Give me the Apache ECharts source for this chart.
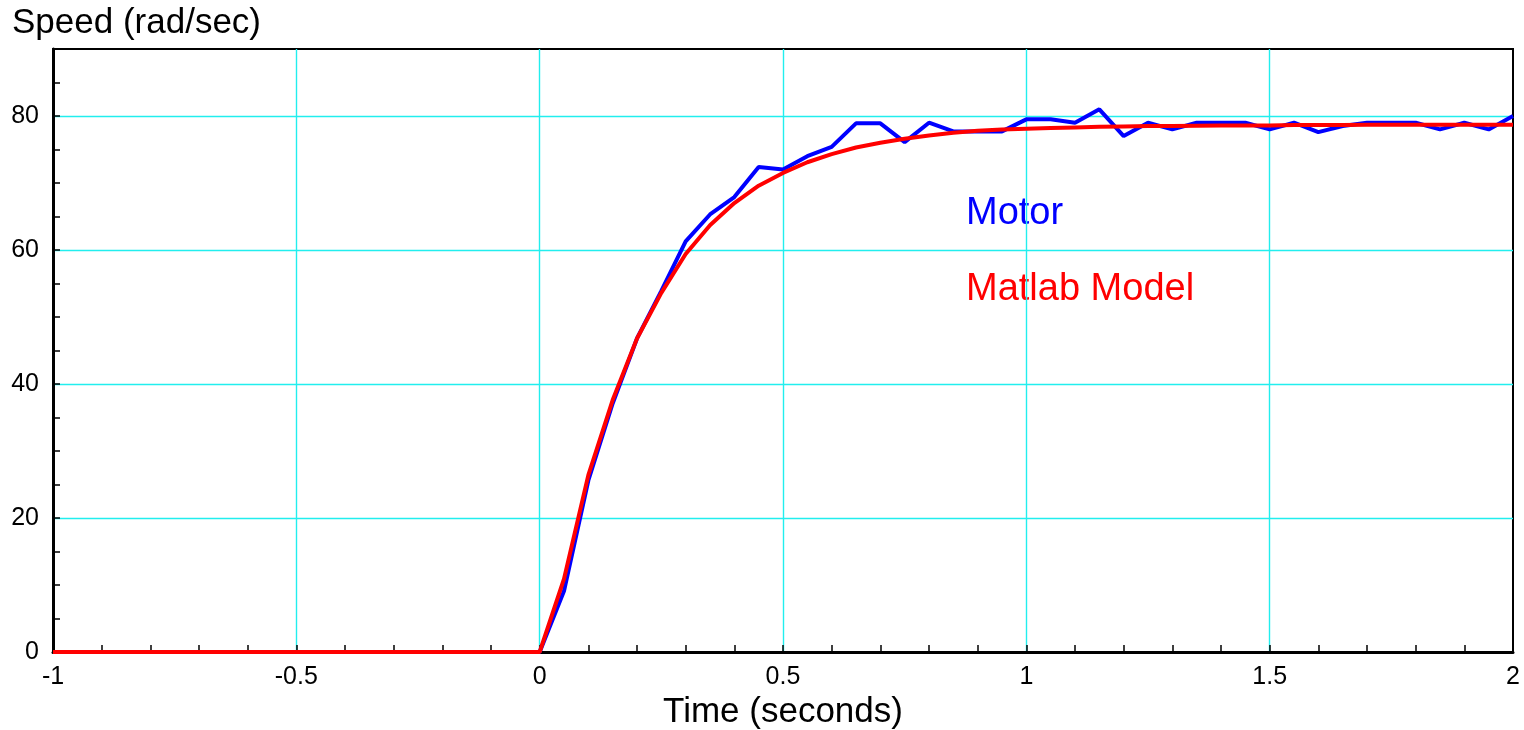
<!DOCTYPE html>
<html>
<head>
<meta charset="utf-8">
<script src="https://cdn.jsdelivr.net/npm/echarts@6/dist/echarts.min.js"></script>
<style>
html,body{margin:0;padding:0;background:#fff;}
#chart{width:1524px;height:730px;}
</style>
</head>
<body>
<div id="chart"></div>
<script>
// Time samples (seconds)
var times = [-1, 0, 0.05, 0.1, 0.15, 0.2, 0.25, 0.3, 0.35, 0.4, 0.45, 0.5, 0.55, 0.6, 0.65, 0.7, 0.75, 0.8, 0.85, 0.9, 0.95,
  1.0, 1.05, 1.1, 1.15, 1.2, 1.25, 1.3, 1.35, 1.4, 1.45, 1.5, 1.55, 1.6, 1.65, 1.7, 1.75, 1.8, 1.85, 1.9, 1.95, 2.0];
// Measured motor speed (rad/sec)
var motor = [0, 0, 9.1, 25.6, 37.1, 46.8, 53.9, 61.3, 65.3, 67.9, 72.4, 72.0, 74.0, 75.4, 78.9, 78.9, 76.1, 79.0, 77.7, 77.7, 77.7,
  79.5, 79.5, 79.0, 81.0, 77.0, 79.0, 78.0, 79.0, 79.0, 79.0, 78.0, 79.0, 77.6, 78.5, 79.0, 79.0, 79.0, 78.0, 79.0, 78.0, 80.0];
// Matlab model speed (rad/sec)
var model = [0, 0, 10.9, 26.4, 37.6, 46.8, 53.6, 59.4, 63.7, 67.0, 69.6, 71.5, 73.1, 74.3, 75.3, 76.0, 76.6, 77.1, 77.5, 77.8, 78.0,
  78.1, 78.2, 78.3, 78.4, 78.45, 78.5, 78.5, 78.55, 78.6, 78.6, 78.6, 78.65, 78.65, 78.65, 78.7, 78.7, 78.7, 78.7, 78.7, 78.7, 78.7];
var yTickLabels = [0, 20, 40, 60, 80];

var FONT = '"Liberation Sans", Arial, Helvetica, sans-serif';
function pairs(ys) { return times.map(function (t, i) { return [t, ys[i]]; }); }

var chart = echarts.init(document.getElementById('chart'), null, { renderer: 'canvas' });
chart.setOption({
  animation: false,
  backgroundColor: '#fff',
  grid: { left: 53, right: 11, top: 49, bottom: 78, show: true, borderColor: '#000', borderWidth: 2,
    backgroundColor: 'transparent', containLabel: false, outerBoundsMode: 'none' },
  graphic: [
    { type: 'text', x: 12, y: 23, style: { text: 'Speed (rad/sec)', font: '35px ' + FONT, fill: '#000', verticalAlign: 'middle' } },
    { type: 'text', x: 966, y: 214, style: { text: 'Motor', font: '38px ' + FONT, fill: '#0000ff', verticalAlign: 'middle' } },
    { type: 'text', x: 966, y: 290, style: { text: 'Matlab Model', font: '38px ' + FONT, fill: '#ff0000', verticalAlign: 'middle' } }
  ],
  xAxis: {
    type: 'value', min: -1, max: 2, interval: 0.5,
    name: 'Time (seconds)', nameLocation: 'middle', nameGap: 43,
    nameTextStyle: { fontSize: 35, fontFamily: FONT, color: '#000' },
    axisLine: { show: true, onZero: false, lineStyle: { color: '#000', width: 3 } },
    axisTick: { show: true, inside: true, length: 7, lineStyle: { color: '#000', width: 1.5 } },
    minorTick: { show: true, splitNumber: 5, length: 7, lineStyle: { color: '#000', width: 1.5 } },
    axisLabel: { fontSize: 25, fontFamily: FONT, color: '#000', margin: 13 },
    splitLine: { show: true, showMinLine: false, showMaxLine: false, lineStyle: { color: '#22eeee', width: 1.4 } },
    minorSplitLine: { show: false }
  },
  yAxis: [
    {
      type: 'value', min: 0, max: 90, interval: 10,
      axisLine: { show: true, onZero: false, lineStyle: { color: '#000', width: 3 } },
      axisTick: { show: true, inside: true, length: 7, lineStyle: { color: '#000', width: 1.5 } },
      minorTick: { show: true, splitNumber: 2, length: 7, lineStyle: { color: '#000', width: 1.5 } },
      axisLabel: {
        fontSize: 25, fontFamily: FONT, color: '#000', margin: 14,
        formatter: function (v) { return yTickLabels.indexOf(v) >= 0 ? String(v) : ''; }
      },
      splitLine: { show: false }
    },
    {
      type: 'value', min: 0, max: 90, interval: 20, position: 'left',
      axisLine: { show: false, onZero: false }, axisTick: { show: false }, axisLabel: { show: false },
      splitLine: { show: true, showMinLine: false, showMaxLine: false, lineStyle: { color: '#22eeee', width: 1.4 } }
    }
  ],
  series: [
    { name: 'Motor', type: 'line', data: pairs(motor), showSymbol: false, symbol: 'none',
      lineStyle: { color: '#0000ff', width: 4 }, yAxisIndex: 0 },
    { name: 'Matlab Model', type: 'line', data: pairs(model), showSymbol: false, symbol: 'none',
      lineStyle: { color: '#ff0000', width: 4 }, yAxisIndex: 0 }
  ]
});
</script>
</body>
</html>
